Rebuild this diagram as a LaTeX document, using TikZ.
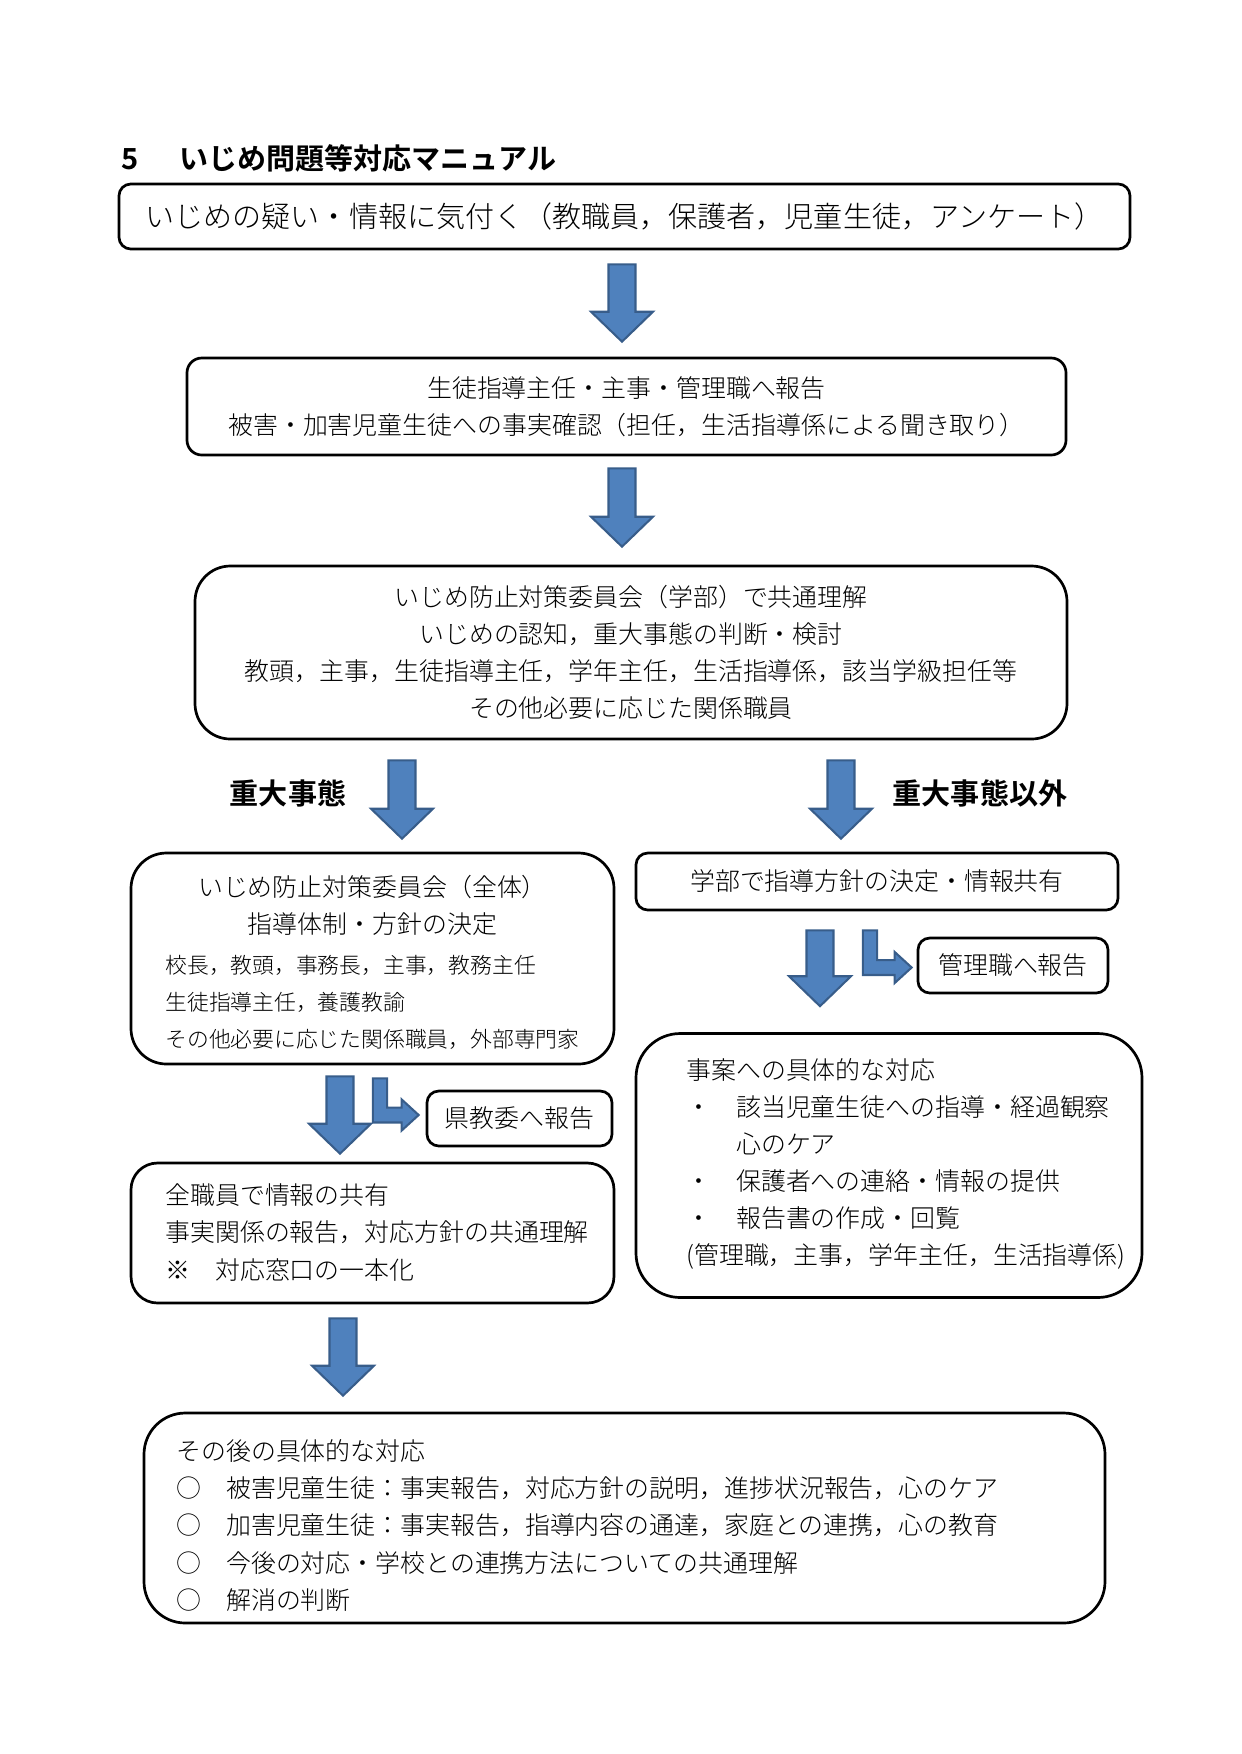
\documentclass[tikz,border=0pt]{standalone}
\usepackage{fontspec}
\setmainfont{Noto Sans CJK JP Light}[BoldFont={Noto Sans CJK JP Bold}]
\usetikzlibrary{calc}

% one pixel of the A4 page
\newcommand\pxu{0.16933mm}
\definecolor{arrowblue}{HTML}{4F81BD}
\definecolor{arrowedge}{HTML}{385D8A}

\tikzset{
  flowbox/.style={draw, line width=1.3pt, rounded corners=2mm, inner sep=0pt, align=center,
    font=\fontsize{12}{17.8}\selectfont},
  bodytext/.style={inner sep=0pt, align=left, font=\fontsize{12}{17.9}\selectfont},
  smalltext/.style={inner sep=0pt, align=left, font=\fontsize{10.5}{17.8}\selectfont},
  headtext/.style={inner sep=0pt, font=\fontsize{14}{17}\selectfont\bfseries},
  blockarrow/.style={fill=arrowblue, draw=arrowedge, line width=1pt, line join=miter},
}

% Blockpfeil nach unten: #1 oberer Mittelpunkt, #2 Spitze
\newcommand\downblock[2]{%
  \path[blockarrow] let \p1=#1, \p2=#2 in
    (\x1-6.5pt,\y1) -- (\x1+6.5pt,\y1) -- (\x1+6.5pt,\y2+14.4pt) -- (\x1+14.9pt,\y2+14.4pt)
    -- (\x1,\y2) -- (\x1-14.9pt,\y2+14.4pt) -- (\x1-6.5pt,\y2+14.4pt) -- cycle;}

% abgeknickter Pfeil: #1 oberer Mittelpunkt, #2 Spitze
\newcommand\bentblock[2]{%
  \path[blockarrow] let \p1=#1, \p2=#2 in
    (\x1-3.4pt,\y1) -- (\x1+3.4pt,\y1) -- (\x1+3.4pt,\y2+3.6pt) -- (\x2-8.2pt,\y2+3.6pt)
    -- (\x2-8.2pt,\y2+7.5pt) -- (\x2,\y2) -- (\x2-8.2pt,\y2-7.5pt) -- (\x2-8.2pt,\y2-3.6pt)
    -- (\x1-3.4pt,\y2-3.6pt) -- cycle;}

\begin{document}
\begin{tikzpicture}[x=\pxu, y=-\pxu]
    \useasboundingbox (0,0) rectangle (1241,1754);

    % --- Titel ---
    \node[headtext, anchor=west] (title) at (121,158) {5\hspace{1.4em}いじめ問題等対応マニュアル};

    % --- obere Kette ---
    \node[flowbox, font=\fontsize{14}{17}\selectfont, minimum width=1011*\pxu, minimum height=65*\pxu]
        (notice) at (624.5,216.5) {いじめの疑い・情報に気付く（教職員，保護者，児童生徒，アンケート）};
    \node[flowbox, rounded corners=2.5mm, minimum width=879*\pxu, minimum height=97*\pxu]
        (report) at (626.5,406.5) {生徒指導主任・主事・管理職へ報告\\被害・加害児童生徒への事実確認（担任，生活指導係による聞き取り）};
    \node[flowbox, rounded corners=6mm, minimum width=872*\pxu, minimum height=173*\pxu]
        (committee) at (631,652.5) {いじめ防止対策委員会（学部）で共通理解\\いじめの認知，重大事態の判断・検討\\教頭，主事，生徒指導主任，学年主任，生活指導係，該当学級担任等\\その他必要に応じた関係職員};

    \downblock{($(notice.south)+(-2.5,14)$)}{($(report.north)+(0,-15)$)}
    \downblock{($(report.south)+(-4.5,12)$)}{($(committee.north)+(0,-18)$)}

    % --- Verzweigung ---
    \node[headtext] (serious) at (288,793) {重大事態};
    \node[headtext] (other) at (980,793) {重大事態以外};

    % linker Zweig (重大事態)
    \node[flowbox, rounded corners=6mm, minimum width=483*\pxu, minimum height=211*\pxu]
        (fullcmt) at (372.5,958.5) {};
    \node[bodytext, align=center] (fullcmttitle) at (372.5,905.5) {いじめ防止対策委員会（全体）\\指導体制・方針の決定};
    \node[smalltext, anchor=west] (fullcmtmembers) at (165,1002) {校長，教頭，事務長，主事，教務主任\\生徒指導主任，養護教諭\\その他必要に応じた関係職員，外部専門家};
    \node[flowbox, minimum width=185*\pxu, minimum height=55*\pxu]
        (prefreport) at (519.5,1118.5) {県教委へ報告};
    \node[flowbox, rounded corners=4.5mm, minimum width=483*\pxu, minimum height=140*\pxu]
        (share) at (372.5,1233) {};
    \node[bodytext, anchor=west] (sharetext) at (165,1232.5) {全職員で情報の共有\\事実関係の報告，対応方針の共通理解\\※　対応窓口の一本化};

    \downblock{($(committee.south)+(-229,20)$)}{($(fullcmt.north)+(0,-13)$)}
    \downblock{($(fullcmt.south)+(-32.5,11)$)}{($(share.north)+(0,-8)$)}
    \bentblock{($(fullcmt.south)+(7.5,13)$)}{($(prefreport.west)+(-7,-3.5)$)}

    % rechter Zweig (重大事態以外)
    \node[flowbox, minimum width=482*\pxu, minimum height=57*\pxu]
        (deptplan) at (877,881.5) {学部で指導方針の決定・情報共有};
    \node[flowbox, minimum width=190*\pxu, minimum height=55*\pxu]
        (mgrreport) at (1013,965.5) {管理職へ報告};
    \node[flowbox, rounded corners=7.5mm, minimum width=506*\pxu, minimum height=264*\pxu]
        (casework) at (889,1165.5) {};
    \node[bodytext, anchor=west] (caseworktext) at (686,1164) {事案への具体的な対応\\・　該当児童生徒への指導・経過観察\\\hspace{2em}心のケア\\・　保護者への連絡・情報の提供\\・　報告書の作成・回覧\\(管理職，主事，学年主任，生活指導係)};

    \downblock{($(committee.south)+(210,20)$)}{($(deptplan.north)+(0,-13)$)}
    \downblock{($(deptplan.south)+(-57,19)$)}{($(casework.north)+(0,-26)$)}
    \bentblock{($(deptplan.south)+(-7,19)$)}{($(mgrreport.west)+(-5,2)$)}

    % --- Abschluss ---
    \node[flowbox, rounded corners=7mm, minimum width=961*\pxu, minimum height=210*\pxu]
        (followup) at (624.5,1518) {};
    \node[bodytext, anchor=west] (followuptext) at (176,1525.5) {その後の具体的な対応\\○　被害児童生徒：事実報告，対応方針の説明，進捗状況報告，心のケア\\○　加害児童生徒：事実報告，指導内容の通達，家庭との連携，心の教育\\○　今後の対応・学校との連携方法についての共通理解\\○　解消の判断};

    \downblock{($(share.south)+(-29.5,14)$)}{($(followup.north)+(0,-16)$)}
\end{tikzpicture}
\end{document}
